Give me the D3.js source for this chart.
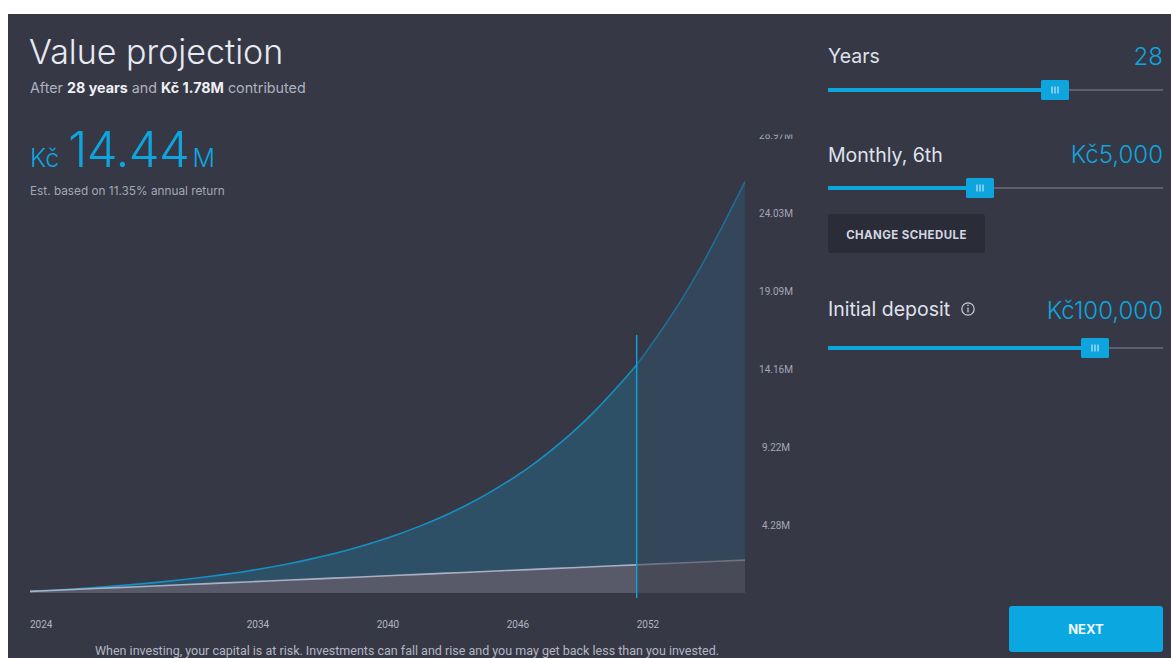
<!DOCTYPE html>
<html>
<head>
<meta charset="utf-8">
<script src="https://cdn.jsdelivr.net/npm/d3@7"></script>
<style>
  html, body { margin: 0; padding: 0; background: #ffffff; }
  svg { display: block; font-family: Inter, "Noto Sans", sans-serif; }
</style>
</head>
<body>
<svg id="chart" width="1171" height="658"></svg>
<script>
// projected value per year (millions CZK)
const years = [2024, 2025, 2026, 2027, 2028, 2029, 2030, 2031, 2032, 2033, 2034, 2035,
  2036, 2037, 2038, 2039, 2040, 2041, 2042, 2043, 2044, 2045, 2046, 2047, 2048, 2049,
  2050, 2051, 2052, 2053, 2054, 2055, 2056, 2057];
const projected = [0.10, 0.17, 0.25, 0.34, 0.45, 0.56, 0.69, 0.84, 1.00, 1.18, 1.38, 1.61,
  1.87, 2.16, 2.48, 2.85, 3.26, 3.72, 4.23, 4.81, 5.46, 6.19, 7.01, 7.92, 8.96, 10.11,
  11.41, 12.87, 14.44, 16.34, 18.40, 20.72, 23.32, 26.00];
const contributed = [0.10, 0.16, 0.22, 0.28, 0.34, 0.40, 0.46, 0.52, 0.58, 0.64, 0.70, 0.76,
  0.82, 0.88, 0.94, 1.00, 1.06, 1.12, 1.18, 1.24, 1.30, 1.36, 1.42, 1.48, 1.54, 1.60,
  1.66, 1.72, 1.78, 1.84, 1.90, 1.96, 2.02, 2.08];
const xTicks = [2024, 2034, 2040, 2046, 2052];
const yTicks = [28.97, 24.03, 19.09, 14.16, 9.22, 4.28];
const yTickLabels = ["28.97M", "24.03M", "19.09M", "14.16M", "9.22M", "4.28M"];
const selectedYear = 2052;

const svg = d3.select("#chart");
const bg = "#363845";
const blue = "#0ea5df";

// dark card
svg.append("rect").attr("x", 8).attr("y", 14).attr("width", 1163).attr("height", 644).attr("fill", bg);

const x = d3.scaleLinear().domain([2024, 2057]).range([30, 745]);
const y = d3.scaleLinear().domain([0, 28.97]).range([593, 135]);

const rows = years.map((yr, i) => ({ yr, v: projected[i], c: contributed[i] }));

const defs = svg.append("defs");
defs.append("clipPath").attr("id", "left")
  .append("rect").attr("x", 0).attr("y", 0).attr("width", x(selectedYear)).attr("height", 658);
defs.append("clipPath").attr("id", "right")
  .append("rect").attr("x", x(selectedYear)).attr("y", 0).attr("width", 1171).attr("height", 658);
defs.append("clipPath").attr("id", "ylab")
  .append("rect").attr("x", 740).attr("y", 134.5).attr("width", 80).attr("height", 480);

const areaV = d3.area().x(d => x(d.yr)).y0(y(0)).y1(d => y(d.v)).curve(d3.curveMonotoneX);
const lineV = d3.line().x(d => x(d.yr)).y(d => y(d.v)).curve(d3.curveMonotoneX);
const areaC = d3.area().x(d => x(d.yr)).y0(y(0)).y1(d => y(d.c));
const lineC = d3.line().x(d => x(d.yr)).y(d => y(d.c));

const styles = {
  left: { area: "#2d5067", line: "#1690c4", carea: "#585a6a", cline: "#a9b0c4" },
  right: { area: "#33465a", line: "#1f6f95", carea: "#484a58", cline: "#6e7383" }
};
["left", "right"].forEach(side => {
  const g = svg.append("g").attr("clip-path", `url(#${side})`);
  const s = styles[side];
  g.append("path").datum(rows).attr("d", areaV).attr("fill", s.area);
  g.append("path").datum(rows).attr("d", lineV).attr("fill", "none").attr("stroke", s.line).attr("stroke-width", 1.6);
  g.append("path").datum(rows).attr("d", areaC).attr("fill", s.carea);
  g.append("path").datum(rows).attr("d", lineC).attr("fill", "none").attr("stroke", s.cline).attr("stroke-width", 1.6);
});

// selected year marker
svg.append("line")
  .attr("x1", x(selectedYear)).attr("x2", x(selectedYear))
  .attr("y1", 335).attr("y2", 598)
  .attr("stroke", blue).attr("stroke-width", 1.4);

// y tick labels
svg.append("g").attr("clip-path", "url(#ylab)")
  .selectAll("text").data(yTicks).join("text")
  .attr("x", 776).attr("y", d => y(d) + 3.5)
  .attr("text-anchor", "middle")
  .attr("font-family", "Roboto, sans-serif")
  .attr("font-size", 10).attr("fill", "#a3a7b6")
  .text((d, i) => yTickLabels[i]);

// x tick labels
svg.append("g").selectAll("text").data(xTicks).join("text")
  .attr("x", d => x(d)).attr("y", 628)
  .attr("font-family", "Roboto, sans-serif")
  .attr("font-size", 10).attr("fill", "#b3b6c3")
  .text(d => d);

// footer
svg.append("text").attr("x", 407).attr("y", 655).attr("text-anchor", "middle")
  .attr("font-family", "Roboto, sans-serif").attr("font-size", 12.5).attr("fill", "#b3b6c3")
  .text("When investing, your capital is at risk. Investments can fall and rise and you may get back less than you invested.");

// headings
svg.append("text").attr("x", 29).attr("y", 64).attr("font-size", 34).attr("font-weight", 300)
  .attr("fill", "#e8eaf2").text("Value projection");
const sub = svg.append("text").attr("x", 30).attr("y", 93).attr("font-size", 14.3).attr("fill", "#aeb2c0");
sub.append("tspan").text("After ");
sub.append("tspan").attr("font-weight", 700).attr("fill", "#eef0f6").text("28 years");
sub.append("tspan").text(" and ");
sub.append("tspan").attr("font-weight", 700).attr("fill", "#eef0f6").text("Kč 1.78M");
sub.append("tspan").text(" contributed");

const big = svg.append("text").attr("x", 30).attr("y", 167).attr("fill", blue).attr("font-weight", 300);
big.append("tspan").attr("font-size", 25).text("Kč");
big.append("tspan").attr("x", 68).attr("font-size", 49).attr("letter-spacing", -0.5).text("14.44");
big.append("tspan").attr("dx", 3).attr("font-size", 25).text("M");
svg.append("text").attr("x", 30).attr("y", 195).attr("font-size", 11.8).attr("fill", "#a3a7b6")
  .text("Est. based on 11.35% annual return");

// right panel controls
const controls = [
  { label: "Years", value: "28", labelY: 63, valueY: 65, track: 90, handle: 1055 },
  { label: "Monthly, 6th", value: "Kč5,000", labelY: 162, valueY: 163, track: 188, handle: 980 },
  { label: "Initial deposit", value: "Kč100,000", labelY: 316, valueY: 319, track: 348, handle: 1095 }
];
const panel = svg.append("g");
controls.forEach(c => {
  panel.append("text").attr("x", 828).attr("y", c.labelY).attr("font-size", 19.5)
    .attr("fill", "#dfe2ec").text(c.label);
  panel.append("text").attr("x", 1163).attr("y", c.valueY).attr("text-anchor", "end")
    .attr("font-size", 24).attr("font-weight", 300).attr("fill", blue).text(c.value);
  panel.append("line").attr("x1", 828).attr("x2", 1163).attr("y1", c.track).attr("y2", c.track)
    .attr("stroke", "#5d6070").attr("stroke-width", 2);
  panel.append("line").attr("x1", 828).attr("x2", c.handle).attr("y1", c.track).attr("y2", c.track)
    .attr("stroke", blue).attr("stroke-width", 4);
  panel.append("rect").attr("x", c.handle - 14).attr("y", c.track - 10).attr("width", 28).attr("height", 20)
    .attr("rx", 1.5).attr("fill", blue);
  [-3, 0, 3].forEach(dx => panel.append("line")
    .attr("x1", c.handle + dx).attr("x2", c.handle + dx).attr("y1", c.track - 3.5).attr("y2", c.track + 3.5)
    .attr("stroke", "#dff3fc").attr("stroke-width", 1));
});
// info icon
panel.append("circle").attr("cx", 968).attr("cy", 309).attr("r", 6.2).attr("fill", "none")
  .attr("stroke", "#c9ccd8").attr("stroke-width", 1.2);
panel.append("line").attr("x1", 968).attr("x2", 968).attr("y1", 307.5).attr("y2", 312.5)
  .attr("stroke", "#c9ccd8").attr("stroke-width", 1.2);
panel.append("circle").attr("cx", 968).attr("cy", 305.3).attr("r", 0.8).attr("fill", "#c9ccd8");

// change schedule button
panel.append("rect").attr("x", 828).attr("y", 214).attr("width", 157).attr("height", 39)
  .attr("rx", 3).attr("fill", "#2a2c37");
panel.append("text").attr("x", 906.5).attr("y", 238.5).attr("text-anchor", "middle")
  .attr("font-size", 11.5).attr("letter-spacing", 0.4).attr("font-weight", 700).attr("fill", "#d3d6e0").text("CHANGE SCHEDULE");

// next button
panel.append("rect").attr("x", 1009).attr("y", 606).attr("width", 154).attr("height", 46)
  .attr("rx", 3).attr("fill", "#0aa7e1");
panel.append("text").attr("x", 1086).attr("y", 634).attr("text-anchor", "middle")
  .attr("font-size", 13).attr("font-weight", 700).attr("fill", "#f2fbff").text("NEXT");
</script>
</body>
</html>
